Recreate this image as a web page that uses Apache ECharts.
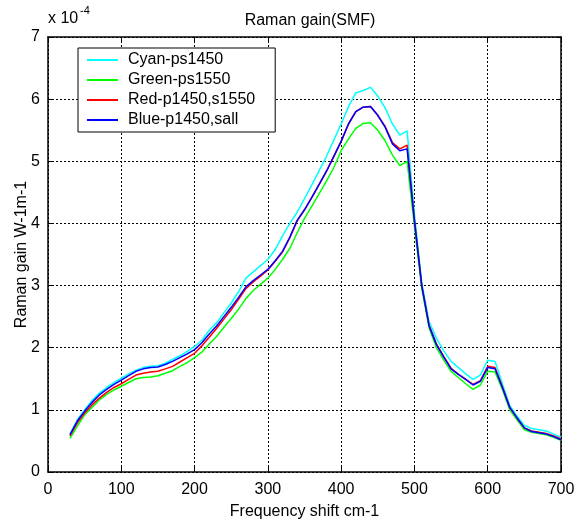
<!DOCTYPE html>
<html>
<head>
<meta charset="utf-8">
<script src="https://cdn.jsdelivr.net/npm/echarts@6/dist/echarts.min.js"></script>
<style>
  html, body { margin: 0; padding: 0; background: #fff; }
  #chart { width: 588px; height: 527px; }
</style>
</head>
<body>
<div id="chart"></div>
<script>
// Frequency shift (cm-1), sampled every 10 cm-1
const shift = [30,40,50,60,70,80,90,100,110,120,130,140,150,160,170,180,190,200,
  210,220,230,240,250,260,270,280,290,300,310,320,330,340,350,360,370,380,390,400,
  410,420,430,440,450,460,470,480,490,500,510,520,530,540,550,560,570,580,590,600,
  610,620,630,640,650,660,670,680,690,700];

// Raman gain in units of 1e-4 W-1m-1
const cyanPs1450 = [0.61,0.84,1.00,1.15,1.27,1.36,1.44,1.51,1.58,1.64,1.68,1.70,1.71,1.75,1.81,1.87,1.94,2.02,
  2.12,2.28,2.40,2.56,2.72,2.90,3.12,3.22,3.32,3.42,3.58,3.80,4.00,4.18,4.40,4.62,4.85,5.08,5.34,5.60,
  5.88,6.10,6.14,6.19,6.05,5.86,5.60,5.42,5.49,4.15,3.05,2.42,2.15,1.95,1.78,1.68,1.58,1.49,1.56,1.80,
  1.78,1.42,1.07,0.90,0.75,0.70,0.68,0.66,0.61,0.56];

const greenPs1550 = [0.54,0.74,0.92,1.04,1.16,1.25,1.32,1.38,1.44,1.50,1.52,1.53,1.55,1.59,1.63,1.70,1.76,1.84,
  1.93,2.06,2.18,2.33,2.47,2.62,2.79,2.92,3.02,3.12,3.26,3.42,3.60,3.85,4.08,4.28,4.48,4.68,4.90,5.17,
  5.36,5.53,5.61,5.62,5.50,5.33,5.10,4.93,5.00,3.95,2.95,2.32,2.00,1.80,1.62,1.52,1.42,1.33,1.40,1.62,
  1.61,1.33,1.00,0.84,0.68,0.64,0.62,0.60,0.56,0.51];

const redP1450S1550 = [0.58,0.79,0.95,1.08,1.19,1.28,1.36,1.42,1.49,1.56,1.59,1.61,1.62,1.66,1.70,1.77,1.84,1.91,
  2.03,2.17,2.31,2.46,2.61,2.78,2.95,3.06,3.15,3.25,3.39,3.54,3.77,4.04,4.22,4.42,4.63,4.84,5.08,5.32,
  5.60,5.80,5.87,5.88,5.74,5.56,5.30,5.20,5.26,4.05,3.00,2.36,2.06,1.86,1.67,1.57,1.49,1.41,1.47,1.70,
  1.68,1.37,1.04,0.87,0.71,0.66,0.64,0.62,0.58,0.53];

const blueP1450Sall = [0.60,0.82,0.98,1.12,1.24,1.33,1.41,1.48,1.55,1.62,1.66,1.68,1.69,1.73,1.78,1.84,1.90,1.97,
  2.08,2.22,2.35,2.50,2.65,2.81,2.98,3.08,3.17,3.26,3.40,3.55,3.78,4.05,4.22,4.42,4.63,4.84,5.08,5.32,
  5.60,5.80,5.87,5.88,5.74,5.55,5.28,5.17,5.20,4.05,3.00,2.35,2.05,1.85,1.66,1.57,1.49,1.40,1.46,1.68,
  1.66,1.36,1.04,0.87,0.71,0.65,0.63,0.61,0.57,0.52];

const xTicks = [0,100,200,300,400,500,600,700];
const yTicks = [0,1,2,3,4,5,6,7];

const seriesDefs = [
  { name: 'Cyan-ps1450', color: '#00ffff', values: cyanPs1450 },
  { name: 'Green-ps1550', color: '#00ff00', values: greenPs1550 },
  { name: 'Red-p1450,s1550', color: '#ff0000', values: redP1450S1550 },
  { name: 'Blue-p1450,sall', color: '#0000ff', values: blueP1450Sall }
];

const FONT = 'Liberation Sans, Arial, sans-serif';
const gridLine = { show: true, lineStyle: { color: '#000', width: 1, type: [2, 2] } };
const frame = { show: true, onZero: false, lineStyle: { color: '#000', width: 1.5 } };
const tick = { show: true, inside: true, length: 5, lineStyle: { color: '#000', width: 1 } };

const chart = echarts.init(document.getElementById('chart'), null, { renderer: 'canvas' });

chart.setOption({
  animation: false,
  backgroundColor: '#fff',
  title: {
    text: 'Raman gain(SMF)',
    left: 305, top: 8, textAlign: 'center',
    textStyle: { fontFamily: FONT, fontSize: 16, fontWeight: 'normal', color: '#000' }
  },
  grid: { left: 48, right: 27, top: 37, bottom: 55, containLabel: false, outerBoundsMode: 'none' },
  legend: {
    orient: 'vertical',
    left: 78, top: 48,
    itemWidth: 31, itemHeight: 14, itemGap: 4,
    padding: [4, 20, 4, 9],
    backgroundColor: '#fff',
    borderColor: '#000', borderWidth: 1,
    textStyle: { fontFamily: FONT, fontSize: 16, color: '#000', padding: [0, 0, 0, 5] },
    data: seriesDefs.map(s => ({ name: s.name, icon: 'path://M0,0 L31,0 L31,2 L0,2 Z' }))
  },
  xAxis: [
    {
      type: 'value', min: 0, max: 700, interval: 100,
      name: 'Frequency shift cm-1', nameLocation: 'middle', nameGap: 32,
      nameMoveOverlap: false,
      nameTextStyle: { fontFamily: FONT, fontSize: 16, color: '#000' },
      axisLine: frame, axisTick: tick, splitLine: gridLine,
      axisLabel: { fontFamily: FONT, fontSize: 16, color: '#000', margin: 10,
        formatter: v => xTicks.includes(v) ? String(v) : '' }
    },
    {
      type: 'value', position: 'top', min: 0, max: 700, interval: 100,
      axisLine: frame, axisTick: tick, splitLine: { show: false }, axisLabel: { show: false }
    }
  ],
  yAxis: [
    {
      type: 'value', min: 0, max: 7, interval: 1,
      name: 'Raman gain W-1m-1', nameLocation: 'middle', nameGap: 18,
      nameMoveOverlap: false,
      nameTextStyle: { fontFamily: FONT, fontSize: 16, color: '#000' },
      axisLine: frame, axisTick: tick, splitLine: gridLine,
      axisLabel: { fontFamily: FONT, fontSize: 16, color: '#000', margin: 8,
        formatter: v => yTicks.includes(v) ? String(v) : '' }
    },
    {
      type: 'value', position: 'right', min: 0, max: 7, interval: 1,
      axisLine: frame, axisTick: tick, splitLine: { show: false }, axisLabel: { show: false }
    }
  ],
  graphic: [
    { type: 'text', left: 48, top: 11,
      style: { text: 'x 10', fontFamily: FONT, fontSize: 16, fill: '#000' } },
    { type: 'text', left: 80, top: 5,
      style: { text: '-4', fontFamily: FONT, fontSize: 11, fill: '#000' } }
  ],
  series: seriesDefs.map(s => ({
    name: s.name,
    type: 'line',
    symbol: 'none',
    color: s.color,
    lineStyle: { color: s.color, width: 1.5 },
    data: shift.map((x, i) => [x, s.values[i]])
  }))
});
</script>
</body>
</html>
